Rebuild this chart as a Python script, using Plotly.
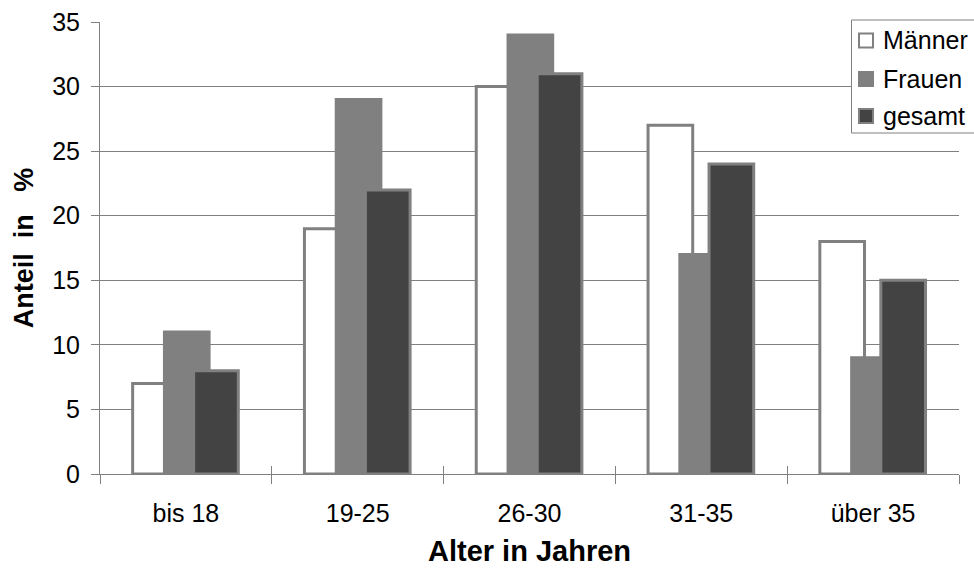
import plotly.graph_objects as go

# Age groups and shares (%) per group
categories = ["bis 18", "19-25", "26-30", "31-35", "über 35"]
maenner = [7, 19, 30, 27, 18]
frauen = [11, 29, 34, 17, 9]
gesamt = [8, 22, 31, 24, 15]

series_names = ["Männer", "Frauen", "gesamt"]
series_values = [maenner, frauen, gesamt]
fill_colors = ["#ffffff", "#808080", "#434343"]
offsets = [-0.31, -0.125, 0.045]
bar_width = 0.26

EDGE = "#808080"
FONT = "Liberation Sans, Arial, sans-serif"

W, H = 974, 569
M_L, M_R, M_T, M_B = 100, 15, 22, 95
PW, PH = W - M_L - M_R, H - M_T - M_B


def px_x(px):
    """pixel column -> paper x"""
    return (px - M_L) / PW


def px_y(py):
    """pixel row -> paper y"""
    return (H - M_B - py) / PH


fig = go.Figure()
for name, vals, col, off in zip(series_names, series_values, fill_colors, offsets):
    fig.add_trace(go.Bar(
        x=categories, y=vals, name=name,
        offset=off, width=bar_width,
        marker=dict(color=col, line=dict(color=EDGE, width=3)),
        showlegend=False,
        hoverinfo="x+y+name",
    ))

# empty helper trace so the secondary axis (inner tick marks) is drawn
fig.add_trace(go.Scatter(x=[], y=[], xaxis="x2", yaxis="y",
                         showlegend=False, hoverinfo="skip"))

# legend box with swatches and labels
shapes = [dict(type="rect", xref="paper", yref="paper",
               x0=px_x(851.5), x1=px_x(980), y0=px_y(133), y1=px_y(20),
               line=dict(color=EDGE, width=1), fillcolor="white", layer="above")]
annotations = []
row_centres = [40.5, 79, 116]
for name, col, cy in zip(series_names, fill_colors, row_centres):
    shapes.append(dict(type="rect", xref="paper", yref="paper",
                       x0=px_x(859), x1=px_x(873), y0=px_y(cy + 7), y1=px_y(cy - 7),
                       line=dict(color=EDGE, width=2), fillcolor=col, layer="above"))
    annotations.append(dict(xref="paper", yref="paper", x=px_x(881), y=px_y(cy),
                            xanchor="left", yanchor="middle", showarrow=False,
                            text=name, font=dict(family=FONT, size=25, color="black")))

fig.update_layout(
    template="none",
    width=W, height=H,
    margin=dict(l=M_L, r=M_R, t=M_T, b=M_B, pad=0),
    paper_bgcolor="white", plot_bgcolor="white",
    barmode="overlay",
    font=dict(family=FONT, size=25, color="black"),
    showlegend=False,
    shapes=shapes,
    annotations=annotations,
    xaxis=dict(
        type="category", range=[-0.5, 4.5], automargin=False,
        showline=True, linecolor=EDGE, linewidth=1,
        ticks="outside", ticklen=9, tickcolor=EDGE, tickwidth=1,
        tickson="boundaries", showgrid=False, zeroline=False,
        tickfont=dict(family=FONT, size=25, color="black"),
        ticklabelstandoff=17,
        title=dict(text="<b>Alter in Jahren</b>", standoff=14,
                   font=dict(family=FONT, size=29, color="black")),
    ),
    xaxis2=dict(
        overlaying="x", range=[-0.5, 4.5], automargin=False,
        tickvals=[-0.5, 0.5, 1.5, 2.5, 3.5, 4.5],
        ticks="inside", ticklen=8, tickcolor=EDGE, tickwidth=1,
        showticklabels=False, showgrid=False, zeroline=False, showline=False,
        side="bottom",
    ),
    yaxis=dict(
        range=[0, 35], dtick=5, automargin=False,
        showline=True, linecolor=EDGE, linewidth=1,
        ticks="outside", ticklen=8, tickcolor=EDGE, tickwidth=1,
        showgrid=True, gridcolor=EDGE, gridwidth=1, zeroline=False,
        tickfont=dict(family=FONT, size=25, color="black"),
        ticklabelstandoff=6,
        title=dict(text="<b>Anteil\u00a0\u00a0in\u00a0\u00a0\u00a0%</b>", standoff=10,
                   font=dict(family=FONT, size=27, color="black")),
    ),
)

fig.write_html("out.html")
